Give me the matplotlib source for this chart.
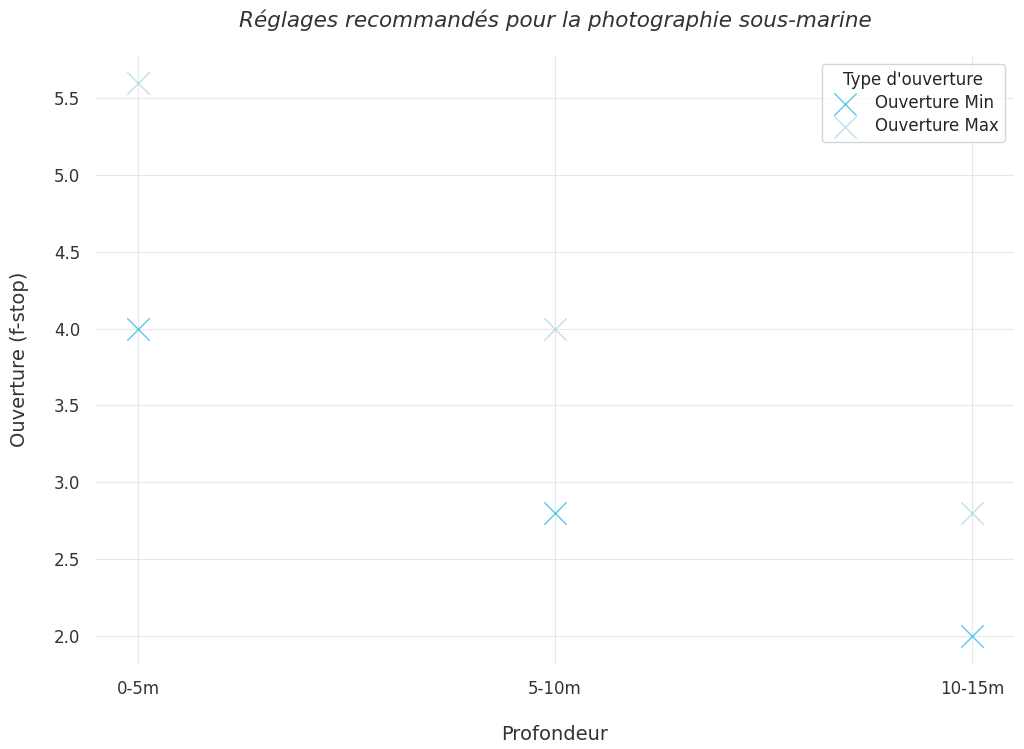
import matplotlib.pyplot as plt
import seaborn as sns

# Données
profondeurs = ['0-5m', '5-10m', '10-15m']
ouverture_min = [4.0, 2.8, 2.0]
ouverture_max = [5.6, 4.0, 2.8]

sns.set_style('whitegrid')
plt.rcParams['font.family'] = ['DejaVu Sans']

fig = plt.figure(figsize=(10.24, 7.49), dpi=100)
ax = fig.add_axes([0.094, 0.1148, 0.896, 0.8104])

ax.scatter(profondeurs, ouverture_min, marker='x', s=260, linewidths=1.0,
           color='#45c4ec', alpha=0.9, label='Ouverture Min')
ax.scatter(profondeurs, ouverture_max, marker='x', s=260, linewidths=1.0,
           color='#add8e6', alpha=0.8, label='Ouverture Max')

ax.set_title('Réglages recommandés pour la photographie sous-marine',
             fontsize=15.5, style='italic', color='#333333', pad=21)
ax.set_xlabel('Profondeur', fontsize=14, color='#333333', labelpad=19)
ax.set_ylabel('Ouverture (f-stop)', fontsize=14, color='#333333', labelpad=18)
ax.tick_params(axis='x', labelsize=12, colors='#333333', pad=9)
ax.tick_params(axis='y', labelsize=12, colors='#333333', pad=8)
ax.set_ylim(1.825, 5.773)
ax.set_yticks([2.0, 2.5, 3.0, 3.5, 4.0, 4.5, 5.0, 5.5])
ax.grid(color='#e8e8e8', linewidth=0.8)
for s in ax.spines.values():
    s.set_visible(False)

leg = ax.legend(title="Type d'ouverture", loc='upper right', fontsize=12,
                title_fontsize=12, frameon=True, labelspacing=0.3,
                borderaxespad=0.5)
leg.get_frame().set_edgecolor('#cccccc')

fig.savefig('out.png', dpi=100)
